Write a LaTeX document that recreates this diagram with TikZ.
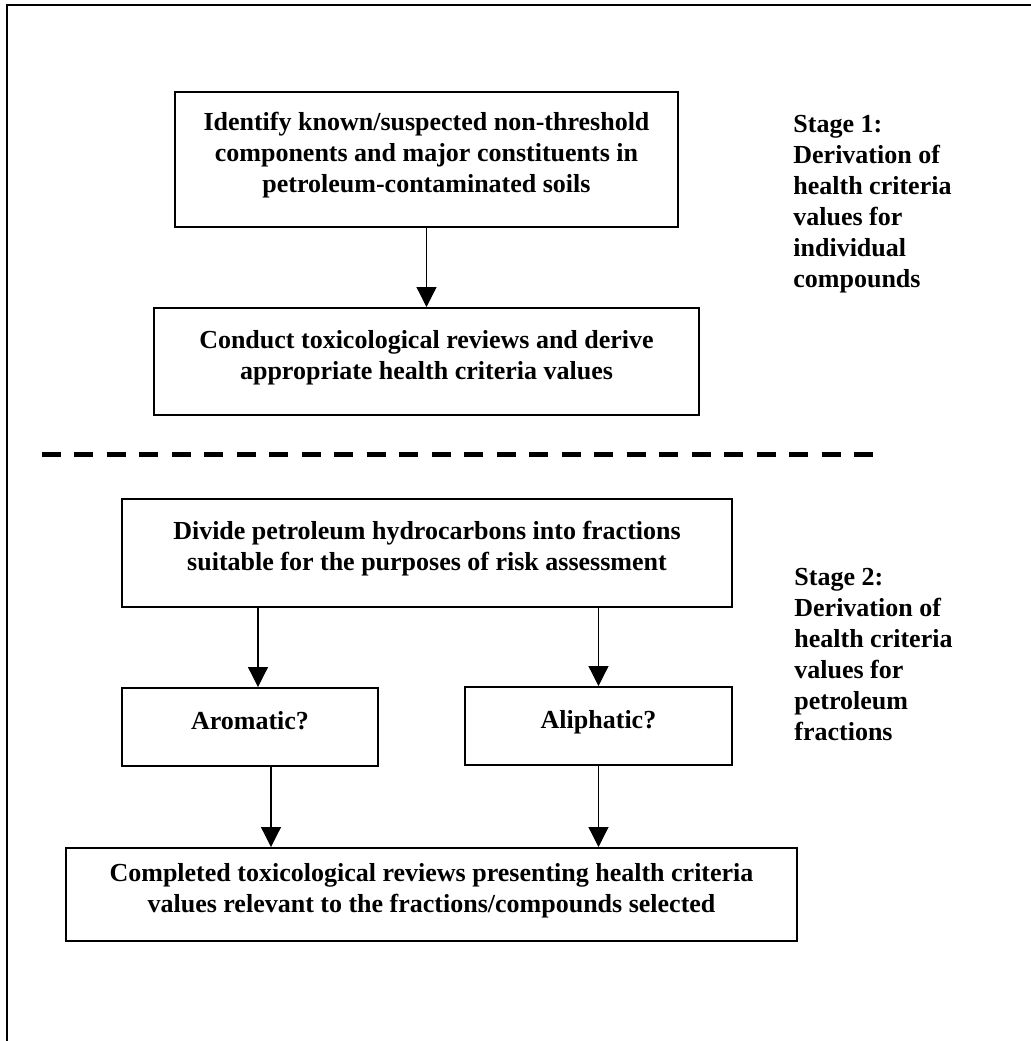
\documentclass[tikz,border=0pt]{standalone}
\usepackage{fontspec}
\setmainfont{Liberation Serif}
\usetikzlibrary{positioning,arrows.meta}
\tikzset{%
  stepBox/.style={%
    rectangle,
    draw=black,
    line width=1pt,
    align=center,
    font=\bfseries\fontsize{13}{15.5}\selectfont,
    execute at end node={\rule[-7pt]{0pt}{7pt}}
  },
  flowArrow/.style={%
    -{Triangle[length=10pt,width=10pt]},
    line width=0.6pt
  },
  stageLabel/.style={%
    anchor=north west,
    align=left,
    inner sep=0pt,
    font=\bfseries\fontsize{13}{15.5}\selectfont
  }
}

\begin{document}
\begin{tikzpicture}[x=0.5pt,y=-0.5pt]
  \useasboundingbox (0,0) rectangle (1031,1041);
  % page frame
  \draw[line width=1pt] (7,1041) -- (7,5) -- (1031,5);

  % stage 1
  \node[stepBox, minimum width=251.5pt, minimum height=67.5pt] (identify) at (426.5,159.5) {Identify known/suspected non-threshold\\components and major constituents in\\petroleum-contaminated soils};
  \node[stepBox, below=39.5pt of identify, minimum width=272.5pt, minimum height=53.5pt] (conduct) {Conduct toxicological reviews and derive\\appropriate health criteria values};
  \node[stageLabel] (stageOne) at (793,115) {Stage 1:\\Derivation of\\health criteria\\values for\\individual\\compounds};

  \draw[flowArrow] (identify) -- (conduct);

  % separator
  \draw[line width=2.5pt, dash pattern=on 9.5pt off 6.74pt] (42,454) -- (873,454);

  % stage 2
  \node[stepBox, minimum width=305pt, minimum height=54pt] (divide) at (427,553) {Divide petroleum hydrocarbons into fractions\\suitable for the purposes of risk assessment};
  \node[stepBox, minimum width=128pt, minimum height=39pt] (aromatic) at (250,727) {Aromatic?};
  \node[stepBox, minimum width=133.5pt, minimum height=39pt] (aliphatic) at (598.5,726) {Aliphatic?};
  \node[stepBox, minimum width=365.5pt, minimum height=46.5pt] (completed) at (431.5,894.5) {Completed toxicological reviews presenting health criteria\\values relevant to the fractions/compounds selected};
  \node[stageLabel] (stageTwo) at (794,568) {Stage 2:\\Derivation of\\health criteria\\values for\\petroleum\\fractions};

  \draw[flowArrow] ([xshift=4pt]aromatic.north |- divide.south) -- ([xshift=4pt]aromatic.north);
  \draw[flowArrow] (aliphatic.north |- divide.south) -- (aliphatic.north);
  \draw[flowArrow] ([xshift=10.5pt]aromatic.south) -- ([xshift=10.5pt]aromatic.south |- completed.north);
  \draw[flowArrow] (aliphatic.south) -- (aliphatic.south |- completed.north);
\end{tikzpicture}
\end{document}
